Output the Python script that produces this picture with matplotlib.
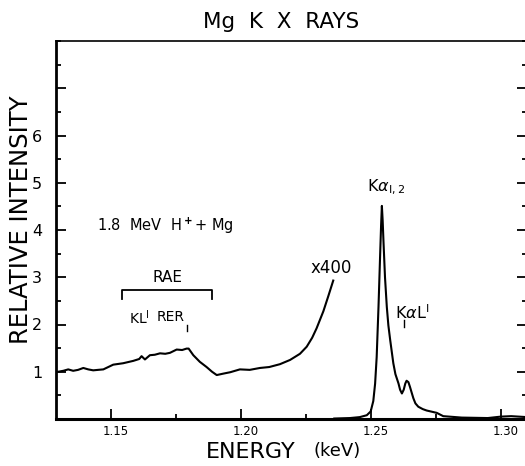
import matplotlib
matplotlib.use("Agg")
import matplotlib.pyplot as plt
import matplotlib.transforms as mtransforms
from matplotlib.ticker import FixedLocator, MultipleLocator

# ---- data ----
bg_energy = [1.1298, 1.1318, 1.1337, 1.1356, 1.1375, 1.1395, 1.1414, 1.1433, 1.1452,
             1.1472, 1.1491, 1.1510, 1.1548, 1.1587, 1.1610, 1.1619, 1.1632, 1.1651,
             1.1670, 1.1690, 1.1710, 1.1728, 1.1754, 1.1775, 1.1792, 1.1800, 1.1818,
             1.1843, 1.1869, 1.1890, 1.1908, 1.1933, 1.1960, 1.1997, 1.2035, 1.2074,
             1.2110, 1.2151, 1.2190, 1.2228, 1.2254, 1.2275, 1.2292, 1.2318, 1.2337,
             1.2356]
bg_intensity = [1.00, 1.02, 1.05, 1.02, 1.04, 1.08, 1.05, 1.03, 1.04,
                1.05, 1.10, 1.15, 1.18, 1.23, 1.27, 1.33, 1.26, 1.35,
                1.36, 1.39, 1.38, 1.40, 1.47, 1.46, 1.49, 1.49, 1.35,
                1.21, 1.10, 1.00, 0.93, 0.96, 0.99, 1.05, 1.04, 1.08,
                1.10, 1.16, 1.25, 1.38, 1.53, 1.72, 1.92, 2.28, 2.60,
                2.93]

peak_energy = [1.2360, 1.2420, 1.2458, 1.2485, 1.2500, 1.2510, 1.2517, 1.2523, 1.2530,
               1.2536, 1.2540, 1.2543, 1.2546, 1.2549, 1.2555, 1.2562, 1.2568, 1.2575,
               1.2587, 1.2595, 1.2607, 1.2613, 1.2620, 1.2627, 1.2633, 1.2638, 1.2645,
               1.2651, 1.2658, 1.2664, 1.2672, 1.2683, 1.2700, 1.2715, 1.2754, 1.2779,
               1.2850, 1.2950, 1.3000, 1.3040, 1.3100]
peak_intensity = [0.01, 0.02, 0.04, 0.08, 0.16, 0.38, 0.75, 1.31, 2.37,
                  3.42, 4.10, 4.51, 4.20, 3.78, 3.00, 2.37, 1.98, 1.67,
                  1.18, 0.95, 0.75, 0.62, 0.54, 0.62, 0.75, 0.81, 0.78,
                  0.68, 0.55, 0.44, 0.33, 0.26, 0.21, 0.18, 0.13, 0.06,
                  0.03, 0.02, 0.05, 0.06, 0.04]

x_ticks = [1.15, 1.20, 1.25, 1.30]
x_tick_labels = ["1.15", "1.20", "1.25", "1.30"]
y_ticks = [1, 2, 3, 4, 5, 6, 7]
y_tick_labels = ["1", "2", "3", "4", "5", "6", ""]

plt.rcParams['font.family'] = ['DejaVu Sans']

fig = plt.figure(figsize=(5.25, 4.66), dpi=100)
W, H = 525, 466
left_px, right_px, top_px, bottom_px = 56, 527, 41, 419
ax = fig.add_axes([left_px / W, 1 - bottom_px / H,
                   (right_px - left_px) / W, (bottom_px - top_px) / H])

ax.plot(bg_energy, bg_intensity, color='black', lw=1.5)
ax.plot(peak_energy, peak_intensity, color='black', lw=1.5)

ax.set_xlim(1.1290, 1.3101)
ax.set_ylim(0, 8)

ax.xaxis.set_major_locator(FixedLocator(x_ticks))
ax.set_xticklabels(x_tick_labels, fontsize=8.5)
ax.xaxis.set_minor_locator(FixedLocator([1.175, 1.225, 1.275]))
ax.yaxis.set_major_locator(FixedLocator(y_ticks))
ax.set_yticklabels(y_tick_labels, fontsize=11.5)
ax.yaxis.set_minor_locator(MultipleLocator(0.5))

ax.tick_params(axis='both', which='both', direction='in', top=False, right=True,
               width=1.3)
ax.tick_params(axis='both', which='major', length=7)
ax.tick_params(axis='both', which='minor', length=3.5)
ax.tick_params(axis='y', which='major', pad=10)
ax.tick_params(axis='x', which='major', pad=4)

offset = mtransforms.ScaledTranslation(5 / 100, 0, fig.dpi_scale_trans)
for lab in ax.get_xticklabels():
    lab.set_transform(lab.get_transform() + offset)

ax.spines['left'].set_linewidth(2.0)
ax.spines['bottom'].set_linewidth(2.2)
ax.spines['top'].set_linewidth(1.2)
ax.spines['right'].set_linewidth(1.2)

# title and axis labels
fig.text(281 / W, 1 - 22 / H, "Mg  K  X  RAYS", ha='center', va='center', fontsize=15.5)
fig.text(251 / W, 1 - 452 / H, "ENERGY", ha='center', va='center', fontsize=16)
fig.text(337 / W, 1 - 451 / H, "(keV)", ha='center', va='center', fontsize=13)
fig.text(21 / W, 1 - 220 / H, "RELATIVE INTENSITY", ha='center', va='center',
         rotation=90, fontsize=17.5)

# annotations
ax.text(1.1447, 4.09, "1.8  MeV  H$^{\\bf +}$+ Mg", ha='left', va='center', fontsize=10.5)
ax.text(1.1717, 3.0, "RAE", ha='center', va='center', fontsize=11)
ax.plot([1.1544, 1.1544, 1.1890, 1.1890], [2.55, 2.74, 2.74, 2.55], color='black', lw=1.3)
ax.text(1.1609, 2.15, "KL$^{\\mathsf{I}}$", ha='center', va='center', fontsize=10)
ax.text(1.1730, 2.15, "RER", ha='center', va='center', fontsize=10)
ax.plot([1.1792, 1.1792], [1.86, 1.98], color='black', lw=1.0)
ax.text(1.2350, 3.19, "x400", ha='center', va='center', fontsize=12)
ax.text(1.2560, 4.90, "K$\\alpha_{\\mathsf{I,2}}$", ha='center', va='center', fontsize=11.5)
ax.text(1.2660, 2.26, "K$\\alpha$L$^{\\mathsf{I}}$", ha='center', va='center', fontsize=11.5)
ax.plot([1.2627, 1.2627], [1.94, 2.09], color='black', lw=1.0)

fig.savefig("out.png", dpi=100)
